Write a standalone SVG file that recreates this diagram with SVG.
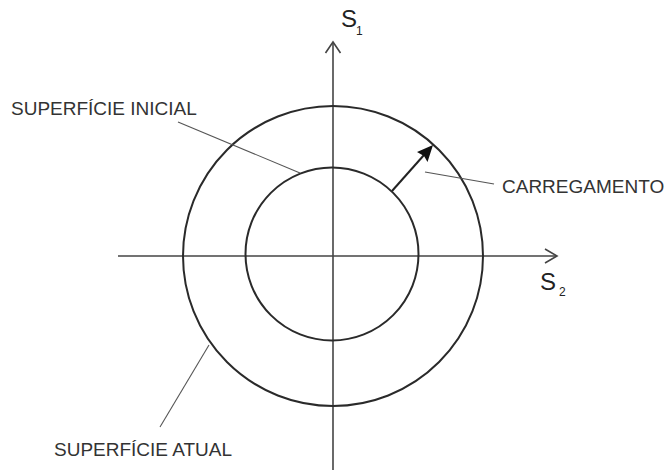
<svg xmlns="http://www.w3.org/2000/svg" width="672" height="470" viewBox="0 0 672 470">
<defs>
<style>
.axis{stroke:#444;stroke-width:1.6;fill:none}
.circ{stroke:#2a2a2a;stroke-width:2;fill:none}
.lead{stroke:#555;stroke-width:1.1;fill:none}
.lbl{font-family:"Liberation Sans",Arial,sans-serif;font-size:19px;fill:#333}
.sym{font-family:"Liberation Sans",Arial,sans-serif;font-size:24px;fill:#222}
.sub{font-family:"Liberation Sans",Arial,sans-serif;font-size:12px;fill:#222}
</style>
</defs>
<rect width="672" height="470" fill="#fff"/>
<g id="axes">
<line class="axis" x1="333" y1="470" x2="333" y2="42"/>
<polyline class="axis" points="325.5,53 333,42 340.5,53"/>
<line class="axis" x1="118" y1="256" x2="557" y2="256"/>
<polyline class="axis" points="545,249 557,256 545,263"/>
</g>
<g id="s1"><text class="sym" x="341" y="27">S</text><text class="sub" x="356" y="35">1</text></g>
<g id="s2"><text class="sym" x="540" y="290">S</text><text class="sub" x="559" y="296">2</text></g>
<g id="outer"><circle class="circ" cx="333" cy="256" r="150"/></g>
<g id="inner"><circle class="circ" cx="332" cy="254" r="86.5"/></g>
<g id="connectors">
<line class="lead" x1="178" y1="122" x2="300" y2="173"/>
<line class="lead" x1="425" y1="172" x2="494" y2="184"/>
<line class="lead" x1="209" y1="345" x2="160" y2="427"/>
<line x1="392" y1="191" x2="424" y2="155" stroke="#222" stroke-width="2"/>
<polygon points="433,145 427.5,162 424,156 417,152" fill="#111"/>
</g>
<g id="label-inicial"><text class="lbl" x="11" y="115">SUPERFÍCIE INICIAL</text></g>
<g id="label-carregamento"><text class="lbl" x="502" y="193">CARREGAMENTO</text></g>
<g id="label-atual"><text class="lbl" x="54" y="456">SUPERFÍCIE ATUAL</text></g>
</svg>
